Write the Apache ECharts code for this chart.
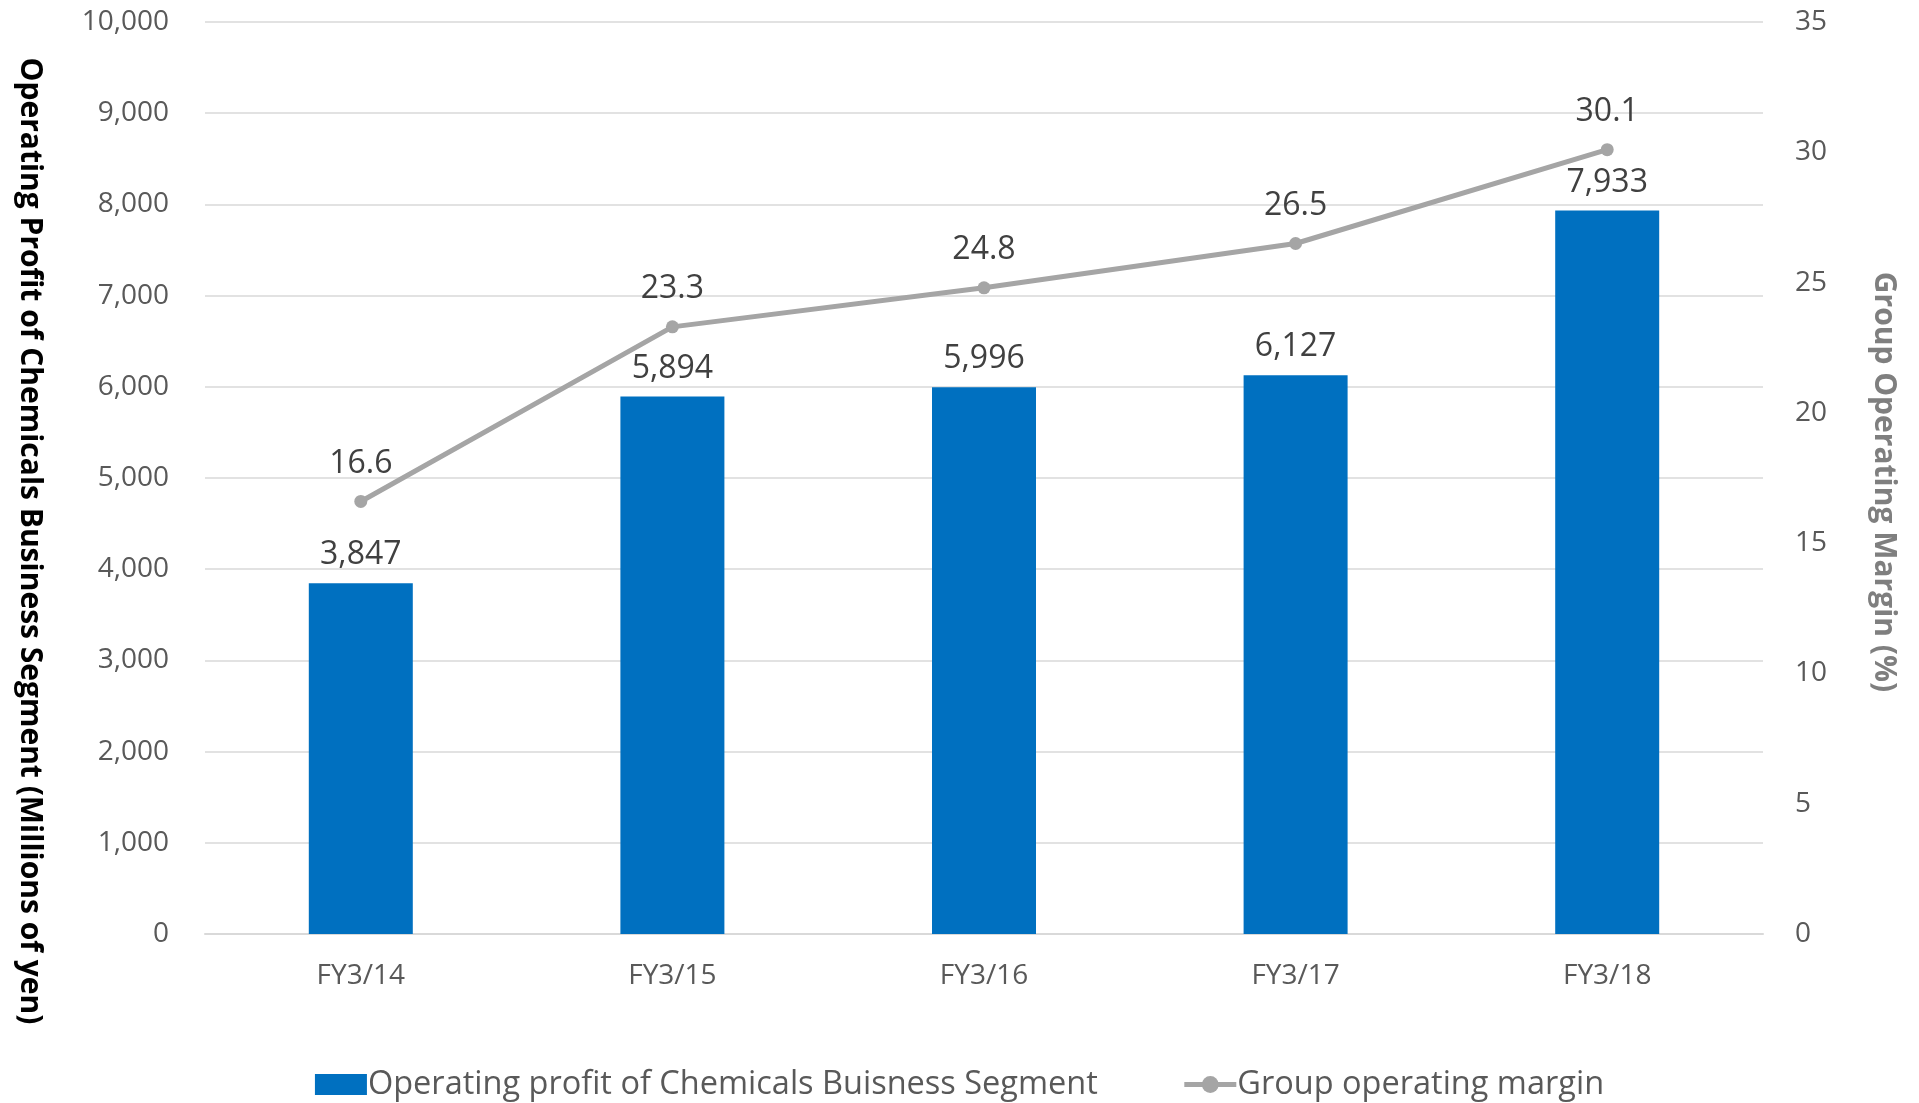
<!DOCTYPE html>
<html>
<head>
<meta charset="utf-8">
<script src="https://cdn.jsdelivr.net/npm/echarts@6/dist/echarts.min.js"></script>
<style>
  html, body { margin: 0; padding: 0; background: #fff; }
  #chart { width: 1919px; height: 1103px; }
</style>
</head>
<body>
<div id="chart"></div>
<script>
// Fiscal years on the category axis
const categories = ['FY3/14', 'FY3/15', 'FY3/16', 'FY3/17', 'FY3/18'];
// Operating profit of the Chemicals segment, millions of yen
const segmentProfit = [3847, 5894, 5996, 6127, 7933];
// Group operating margin, percent
const groupMargin = [16.6, 23.3, 24.8, 26.5, 30.1];

const leftTitle = 'Operating Profit of Chemicals Business Segment (Millions of yen)';
const rightTitle = 'Group Operating Margin (%)';
const barName = 'Operating profit of Chemicals Buisness Segment';
const lineName = 'Group operating margin';

const FONT = '"Open Sans", "Noto Sans", sans-serif';
const chart = echarts.init(document.getElementById('chart'), null, { renderer: 'canvas' });

chart.setOption({
  animation: false,
  backgroundColor: '#ffffff',
  textStyle: { fontFamily: FONT },
  grid: { left: 205, right: 156, top: 22, bottom: 169, containLabel: false },
  legend: {
    bottom: -3,
    left: 'center',
    itemGap: 84,
    itemWidth: 52,
    itemHeight: 21,
    textStyle: { fontFamily: FONT, fontSize: 32.5, color: '#595959', padding: [0, 0, 0, -4] },
    data: [
      { name: barName, icon: 'rect' },
      { name: lineName, lineStyle: { width: 5 } }
    ]
  },
  xAxis: {
    type: 'category',
    data: categories,
    axisLine: { lineStyle: { color: '#d9d9d9', width: 2 } },
    axisTick: { show: false },
    axisLabel: { color: '#595959', fontSize: 28, margin: 28, fontFamily: FONT }
  },
  yAxis: [
    {
      type: 'value',
      min: 0, max: 10000, interval: 1000,
      axisLine: { show: false },
      axisTick: { show: false },
      splitLine: { lineStyle: { color: '#d9d9d9', width: 1.5 } },
      axisLabel: {
        color: '#595959', fontSize: 28, margin: 36, fontFamily: FONT,
        formatter: v => v.toLocaleString('en-US')
      }
    },
    {
      type: 'value',
      min: 0, max: 35, interval: 5,
      axisLine: { show: false },
      axisTick: { show: false },
      splitLine: { show: false },
      axisLabel: { color: '#595959', fontSize: 28, margin: 32, fontFamily: FONT }
    }
  ],
  series: [
    {
      name: barName,
      type: 'bar',
      data: segmentProfit,
      barWidth: 104,
      itemStyle: { color: '#0070c0' },
      label: {
        show: true, position: 'top', distance: 12,
        color: '#404040', fontSize: 32, fontFamily: FONT,
        formatter: p => p.value.toLocaleString('en-US')
      }
    },
    {
      name: lineName,
      type: 'line',
      yAxisIndex: 1,
      data: groupMargin,
      symbol: 'circle',
      symbolSize: 13,
      lineStyle: { color: '#a5a5a5', width: 5 },
      itemStyle: { color: '#a5a5a5' },
      label: {
        show: true, position: 'top', distance: 15,
        color: '#404040', fontSize: 32, fontFamily: FONT,
        formatter: p => p.value.toFixed(1)
      }
    }
  ],
  graphic: [
    {
      type: 'text',
      x: 30, y: 541,
      rotation: -Math.PI / 2,
      style: {
        text: leftTitle,
        fontFamily: FONT, fontSize: 30, fontWeight: 'bold',
        fill: '#000000', align: 'center', verticalAlign: 'middle'
      }
    },
    {
      type: 'text',
      x: 1884, y: 482,
      rotation: -Math.PI / 2,
      style: {
        text: rightTitle,
        fontFamily: FONT, fontSize: 30, fontWeight: 'bold',
        fill: '#7f7f7f', align: 'center', verticalAlign: 'middle'
      }
    }
  ]
});
</script>
</body>
</html>
